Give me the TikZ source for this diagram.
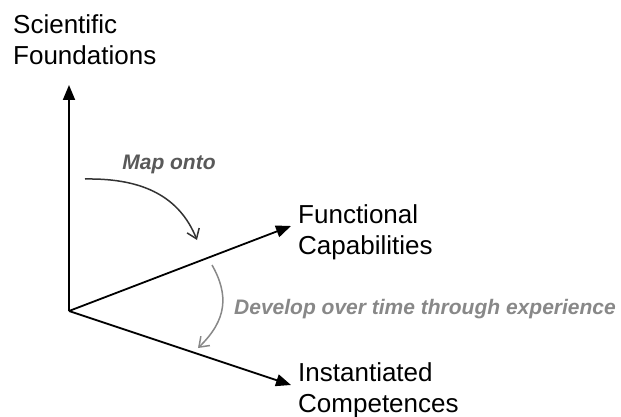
\documentclass[tikz,border=0pt]{standalone}
\usepackage{fontspec}
\setmainfont{Liberation Sans}
\usetikzlibrary{arrows.meta}
\definecolor{mapgrey}{HTML}{333333}
\definecolor{maptext}{HTML}{595959}
\definecolor{devgrey}{HTML}{888888}
\tikzset{
  axis/.style={line width=1.8pt, -{Triangle[length=15pt,width=12pt]}},
  lab/.style={inner sep=0pt, anchor=north west, align=left, font=\fontsize{26}{31.5}\selectfont},
  curvelab/.style={inner sep=0pt, font=\fontsize{21}{24}\selectfont\bfseries\itshape},
  maparrow/.style={draw=mapgrey, line width=1.5pt, -{Straight Barb[length=9pt,width=13pt,line width=1.5pt]}},
  devarrow/.style={draw=devgrey, line width=1.5pt, -{Straight Barb[length=9pt,width=13pt,line width=1.5pt]}}
}
\begin{document}
\begin{tikzpicture}[x=1pt,y=-1pt]
\useasboundingbox (0,0) rectangle (621,417);
\coordinate (o) at (69,311);
\coordinate (sf) at (69,85);
\coordinate (fc) at (291,226);
\coordinate (ic) at (291,385);
\draw[axis] (o) -- (sf);
\draw[axis] (o) -- (fc);
\draw[axis] (o) -- (ic);
\node[lab] (tsf) at (13,14) {Scientific\\Foundations};
\node[lab] (tfc) at (298,204) {Functional\\Capabilities};
\node[lab] (tic) at (298,362) {Instantiated\\Competences};
\coordinate (m1) at (85,179);
\coordinate (m2) at (197,240);
\draw[maparrow] (m1) .. controls (145,178) and (180,198) .. (m2);
\node[curvelab, text=maptext] (tmap) at (169,164) {Map onto};
\coordinate (d1) at (212,265);
\coordinate (d2) at (198,348);
\draw[devarrow] (d1) .. controls (229,295) and (227,320) .. (d2);
\node[curvelab, text=devgrey, anchor=west] (tdev) at (234,309) {Develop over time through experience};
\end{tikzpicture}
\end{document}
